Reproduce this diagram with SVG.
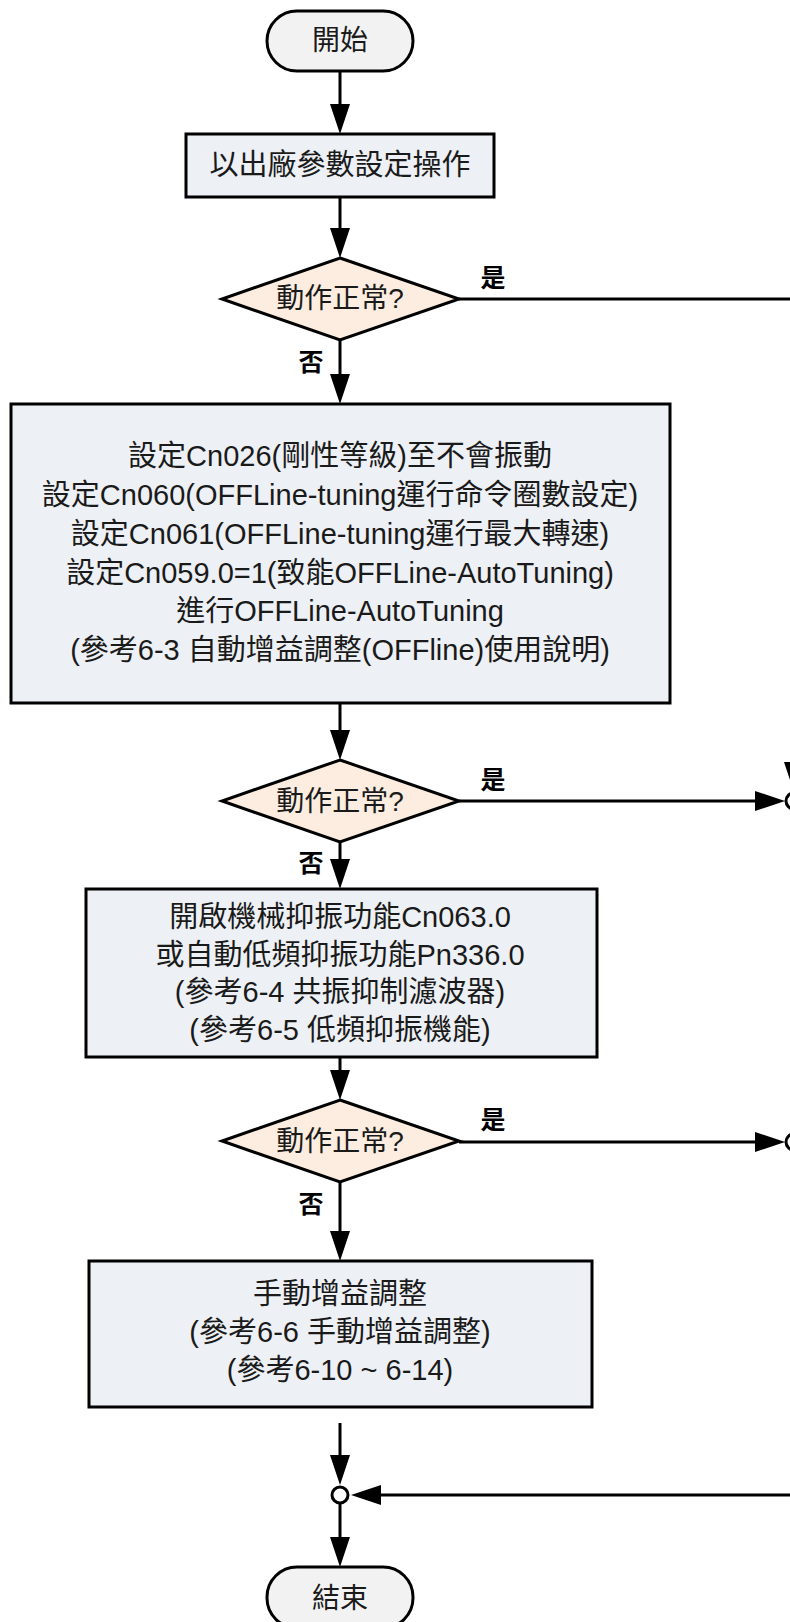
<svg xmlns="http://www.w3.org/2000/svg" width="790" height="1622" viewBox="0 0 790 1622">
<style>
.t{font-family:"Liberation Sans","Noto Sans CJK TC",sans-serif;font-size:29px;fill:#1a1a1a;text-anchor:middle}
.s{font-size:28px}
.lb{font-family:"Liberation Sans","Noto Sans CJK TC",sans-serif;font-size:25px;font-weight:bold;fill:#000;text-anchor:middle}
.term{fill:#f2f2f2;stroke:#000;stroke-width:3}
.box{fill:#edf0f5;stroke:#000;stroke-width:3}
.dec{fill:#fcede0;stroke:#000;stroke-width:3}
.ln{fill:none;stroke:#000;stroke-width:3}
.jn{fill:#fff;stroke:#000;stroke-width:3}
</style>
<defs>
<marker id="ah" markerUnits="userSpaceOnUse" markerWidth="30" markerHeight="20" refX="1" refY="10" orient="auto" viewBox="0 0 30 20">
<path d="M0,0 L30,10 L0,20 z" fill="#000"/>
</marker>
</defs>
<g id="connectors">
<line class="ln" x1="340" y1="71" x2="340" y2="105" marker-end="url(#ah)"/>
<line class="ln" x1="340" y1="197" x2="340" y2="229" marker-end="url(#ah)"/>
<line class="ln" x1="340" y1="340" x2="340" y2="375" marker-end="url(#ah)"/>
<line class="ln" x1="340" y1="703" x2="340" y2="731" marker-end="url(#ah)"/>
<line class="ln" x1="340" y1="842" x2="340" y2="860" marker-end="url(#ah)"/>
<line class="ln" x1="340" y1="1057" x2="340" y2="1071" marker-end="url(#ah)"/>
<line class="ln" x1="340" y1="1182" x2="340" y2="1232" marker-end="url(#ah)"/>
<line class="ln" x1="340" y1="1423" x2="340" y2="1456" marker-end="url(#ah)"/>
<line class="ln" x1="340" y1="1503" x2="340" y2="1538" marker-end="url(#ah)"/>
<polyline class="ln" points="459,299 794,299 794,763" marker-end="url(#ah)"/>
<line class="ln" x1="459" y1="801" x2="756" y2="801" marker-end="url(#ah)"/>
<line class="ln" x1="459" y1="1142" x2="756" y2="1142" marker-end="url(#ah)"/>
<line class="ln" x1="794" y1="809" x2="794" y2="1134"/>
<polyline class="ln" points="794,1150 794,1495 380,1495" marker-end="url(#ah)"/>
<circle id="j1" class="jn" cx="794" cy="801" r="8"/>
<circle id="j2" class="jn" cx="794" cy="1142" r="8"/>
<circle id="j3" class="jn" cx="340" cy="1495" r="8"/>
<text class="lb" x="493" y="287">是</text>
<text class="lb" x="311" y="371">否</text>
<text class="lb" x="493" y="789">是</text>
<text class="lb" x="311" y="872">否</text>
<text class="lb" x="493" y="1129">是</text>
<text class="lb" x="311" y="1213">否</text>
</g>
<g id="start">
<rect class="term" x="267" y="11" width="146" height="60" rx="30"/>
<text class="t s" x="340" y="50">開始</text>
</g>
<g id="step1">
<rect class="box" x="186" y="134" width="308" height="63"/>
<text class="t" x="340" y="175">以出廠參數設定操作</text>
</g>
<g id="dec1">
<polygon class="dec" points="340,258 459,299 340,340 222,299"/>
<text class="t s" x="340" y="308">動作正常?</text>
</g>
<g id="step2">
<rect class="box" x="11" y="404" width="659" height="299"/>
<text class="t" x="340" y="466">設定Cn026(剛性等級)至不會振動</text>
<text class="t" x="340" y="505">設定Cn060(OFFLine-tuning運行命令圈數設定)</text>
<text class="t" x="340" y="544">設定Cn061(OFFLine-tuning運行最大轉速)</text>
<text class="t" x="340" y="583">設定Cn059.0=1(致能OFFLine-AutoTuning)</text>
<text class="t" x="340" y="621">進行OFFLine-AutoTuning</text>
<text class="t" x="340" y="660">(參考6-3 自動增益調整(OFFline)使用說明)</text>
</g>
<g id="dec2">
<polygon class="dec" points="340,760 459,801 340,842 222,801"/>
<text class="t s" x="340" y="811">動作正常?</text>
</g>
<g id="step3">
<rect class="box" x="86" y="889" width="511" height="168"/>
<text class="t" x="340" y="927">開啟機械抑振功能Cn063.0</text>
<text class="t" x="340" y="965">或自動低頻抑振功能Pn336.0</text>
<text class="t" x="340" y="1002">(參考6-4 共振抑制濾波器)</text>
<text class="t" x="340" y="1040">(參考6-5 低頻抑振機能)</text>
</g>
<g id="dec3">
<polygon class="dec" points="340,1100 459,1141 340,1182 222,1141"/>
<text class="t s" x="340" y="1151">動作正常?</text>
</g>
<g id="step4">
<rect class="box" x="89" y="1261" width="503" height="146"/>
<text class="t" x="340" y="1304">手動增益調整</text>
<text class="t" x="340" y="1342">(參考6-6 手動增益調整)</text>
<text class="t" x="340" y="1380">(參考6-10 ~ 6-14)</text>
</g>
<g id="end">
<rect class="term" x="267" y="1567" width="146" height="61" rx="30"/>
<text class="t s" x="340" y="1608">結束</text>
</g>
</svg>
